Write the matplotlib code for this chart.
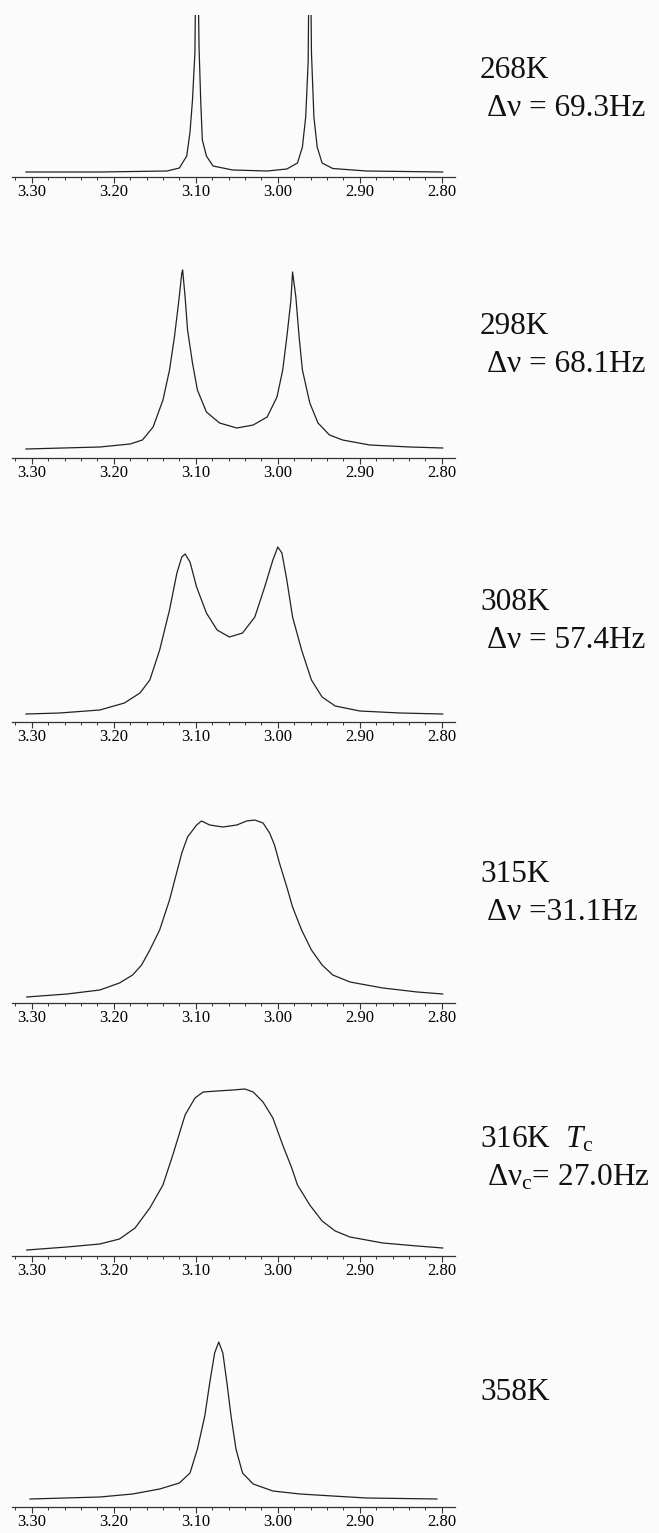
import numpy as np
import matplotlib
matplotlib.use("Agg")
import matplotlib.pyplot as plt
from matplotlib.ticker import MultipleLocator, FormatStrFormatter

plt.rcParams['font.family'] = ['Liberation Serif', 'DejaVu Serif']
plt.rcParams['mathtext.fontset'] = 'custom'
plt.rcParams['mathtext.rm'] = 'Liberation Serif'
plt.rcParams['mathtext.it'] = 'Liberation Serif:italic'

# 1H NMR traces (chemical shift in ppm, intensity in arbitrary units)
ppm_268 = [3.307, 3.217, 3.135, 3.120, 3.111, 3.107, 3.104, 3.101, 3.099, 3.096, 3.094,
           3.092, 3.087, 3.079, 3.055, 3.013, 2.989, 2.976, 2.970, 2.966, 2.963, 2.961,
           2.959, 2.956, 2.952, 2.946, 2.933, 2.892, 2.799]
int_268 = [0, 0, 1, 4, 16, 40, 72, 120, 300, 125, 72,
           32, 16, 6, 2, 1, 3, 9, 25, 55, 110, 300,
           120, 55, 25, 9, 3.5, 1, 0]

ppm_298 = [3.307, 3.217, 3.180, 3.165, 3.152, 3.140, 3.132, 3.126, 3.121, 3.117, 3.116,
           3.113, 3.110, 3.104, 3.098, 3.087, 3.071, 3.050, 3.030, 3.013, 3.001, 2.994,
           2.989, 2.984, 2.982, 2.978, 2.974, 2.970, 2.961, 2.951, 2.937, 2.921, 2.888,
           2.839, 2.799]
int_298 = [1, 3, 6, 10, 23, 50, 80, 113, 147, 177, 180,
           153, 120, 87, 60, 38, 27, 22, 25, 33, 53, 80,
           113, 150, 178, 153, 113, 80, 47, 27, 15, 10, 5,
           3, 2]

ppm_308 = [3.307, 3.266, 3.217, 3.187, 3.168, 3.156, 3.144, 3.132, 3.123, 3.117, 3.113,
           3.107, 3.099, 3.087, 3.074, 3.059, 3.043, 3.028, 3.016, 3.006, 3.000, 2.995,
           2.989, 2.982, 2.971, 2.959, 2.946, 2.930, 2.900, 2.851, 2.799]
int_308 = [1, 2, 5, 12, 22, 35, 65, 105, 142, 158, 161,
           153, 128, 102, 85, 78, 82, 98, 128, 155, 168, 162,
           135, 98, 65, 35, 18, 9, 4, 2, 1]

ppm_315 = [3.306, 3.257, 3.217, 3.193, 3.177, 3.166, 3.156, 3.144, 3.132, 3.117, 3.110,
           3.099, 3.093, 3.083, 3.067, 3.050, 3.038, 3.028, 3.018, 3.010, 3.004, 2.998,
           2.989, 2.982, 2.971, 2.959, 2.946, 2.933, 2.912, 2.872, 2.830, 2.799]
int_315 = [0, 3, 7, 14, 22, 32, 47, 67, 97, 144, 160,
           172, 176, 172, 170, 172, 176, 177, 174, 164, 152, 134,
           110, 90, 67, 47, 32, 22, 15, 9, 5, 3]

ppm_316 = [3.306, 3.257, 3.217, 3.193, 3.174, 3.156, 3.140, 3.128, 3.113, 3.101, 3.091,
           3.074, 3.055, 3.040, 3.030, 3.018, 3.006, 2.994, 2.983, 2.976, 2.961, 2.946,
           2.930, 2.912, 2.872, 2.830, 2.799]
int_316 = [0, 3, 6, 11, 22, 42, 65, 95, 135, 152, 158,
           159, 160, 161, 158, 148, 132, 105, 82, 65, 45, 29,
           19, 13, 7, 4, 2]

ppm_358 = [3.302, 3.217, 3.177, 3.144, 3.120, 3.107, 3.098, 3.089, 3.083, 3.077, 3.072,
           3.067, 3.062, 3.057, 3.051, 3.043, 3.030, 3.006, 2.973, 2.933, 2.892, 2.806]
int_358 = [0, 2, 5, 10, 16, 26, 50, 83, 116, 146, 157,
           146, 116, 83, 50, 26, 15, 8, 5, 3, 1, 0]

spectra = [(ppm_268, int_268), (ppm_298, int_298), (ppm_308, int_308),
           (ppm_315, int_315), (ppm_316, int_316), (ppm_358, int_358)]

labels = ["268K", "298K", "308K", "315K", "316K  $T_{\\rm c}$", "358K"]
delta_labels = ["\u0394\u03bd = 69.3Hz", "\u0394\u03bd = 68.1Hz", "\u0394\u03bd = 57.4Hz",
                "\u0394\u03bd =31.1Hz", "\u0394\u03bd$_{\\rm c}$= 27.0Hz", ""]

# layout in pixels from the top: axis line, top of axes, baseline offset
W, H = 659, 1533
axis_y = [177, 458, 722, 1003, 1256, 1507]
top_y = [15, 258, 522, 803, 1056, 1307]
base_off = [5, 8, 7, 6, 6, 8]
label_y = [70, 327, 602, 875, 1140, 1393]

fig = plt.figure(figsize=(W / 100, H / 100), dpi=100)
fig.patch.set_facecolor('#fbfbfb')

x_left, x_right = 12, 455
for i, (ppm, inten) in enumerate(spectra):
    h = axis_y[i] - top_y[i]
    ax = fig.add_axes([x_left / W, 1 - axis_y[i] / H, (x_right - x_left) / W, h / H])
    ax.patch.set_alpha(0)
    ax.plot(ppm, inten, color='#222222', lw=0.9)
    ax.set_xlim(3.324, 2.784)
    ax.set_ylim(-base_off[i], h - base_off[i])
    for s in ['top', 'right', 'left']:
        ax.spines[s].set_visible(False)
    ax.spines['bottom'].set_linewidth(0.9)
    ax.spines['bottom'].set_color('#333333')
    ax.set_yticks([])
    ax.xaxis.set_major_locator(MultipleLocator(0.1))
    ax.xaxis.set_minor_locator(MultipleLocator(0.02))
    ax.xaxis.set_major_formatter(FormatStrFormatter('%.2f'))
    ax.tick_params(axis='x', which='major', length=4, width=0.8, pad=1,
                   labelsize=12, color='#333333')
    ax.tick_params(axis='x', which='minor', length=2, width=0.7, color='#333333')

    fig.text(480 / W, 1 - label_y[i] / H, labels[i], fontsize=22.5,
             va='center', ha='left', color='#111111')
    if delta_labels[i]:
        fig.text(487 / W, 1 - (label_y[i] + 38) / H, delta_labels[i], fontsize=22.5,
                 va='center', ha='left', color='#111111')

fig.savefig('out.png', dpi=100, facecolor=fig.get_facecolor())
